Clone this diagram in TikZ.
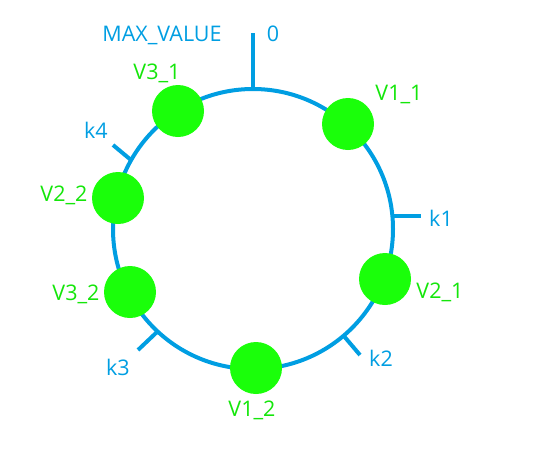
\documentclass[tikz,border=0pt]{standalone}
\usepackage{fontspec}
\setmainfont{Open Sans}
\definecolor{ringblue}{RGB}{0,158,226}
\definecolor{vgreen}{RGB}{26,255,10}
\definecolor{lgreen}{RGB}{20,230,10}
\begin{document}
\begin{tikzpicture}[x=1pt,y=-1pt,
  ring/.style={draw=ringblue,line width=4pt},
  tick/.style={draw=ringblue,line width=4pt},
  vnode/.style={circle,fill=vgreen,minimum size=52pt,inner sep=0pt},
  vlabel/.style={text=lgreen,font=\fontsize{21.5}{24}\selectfont,inner sep=0pt},
  klabel/.style={text=ringblue,font=\fontsize{21.5}{24}\selectfont,inner sep=0pt}]
\useasboundingbox (0,0) rectangle (538,466);
\coordinate (c) at (253,229);
\draw[ring] (c) circle[radius=140];
% ticks
\coordinate (t0a) at (253,89);
\coordinate (t0b) at (253,33);
\coordinate (k1a) at (392,216);
\coordinate (k1b) at (421,216);
\coordinate (k2a) at (343,335);
\coordinate (k2b) at (360,355);
\coordinate (k3a) at (157,332);
\coordinate (k3b) at (138,350);
\coordinate (k4a) at (131,160);
\coordinate (k4b) at (113,145);
\draw[tick] (t0a) -- (t0b);
\draw[tick] (k1a) -- (k1b);
\draw[tick] (k2a) -- (k2b);
\draw[tick] (k3a) -- (k3b);
\draw[tick] (k4a) -- (k4b);
% virtual nodes
\node[vnode] (v11) at (348,124) {};
\node[vnode] (v21) at (385,279) {};
\node[vnode] (v12) at (256,368) {};
\node[vnode] (v32) at (130,292) {};
\node[vnode] (v22) at (118,198) {};
\node[vnode] (v31) at (178,111) {};
% labels
\node[vlabel] (lv11) at (399,94) {V1\_1};
\node[vlabel] (lv21) at (440,292) {V2\_1};
\node[vlabel] (lv12) at (252,410) {V1\_2};
\node[vlabel] (lv32) at (76,294) {V3\_2};
\node[vlabel] (lv22) at (64,195) {V2\_2};
\node[vlabel] (lv31) at (157,73) {V3\_1};
\node[klabel] (lmax) at (162,35) {MAX\_VALUE};
\node[klabel] (l0) at (273,34) {0};
\node[klabel] (lk1) at (441,218) {k1};
\node[klabel] (lk2) at (381,358) {k2};
\node[klabel] (lk3) at (118,367) {k3};
\node[klabel] (lk4) at (96,130) {k4};
\end{tikzpicture}
\end{document}
